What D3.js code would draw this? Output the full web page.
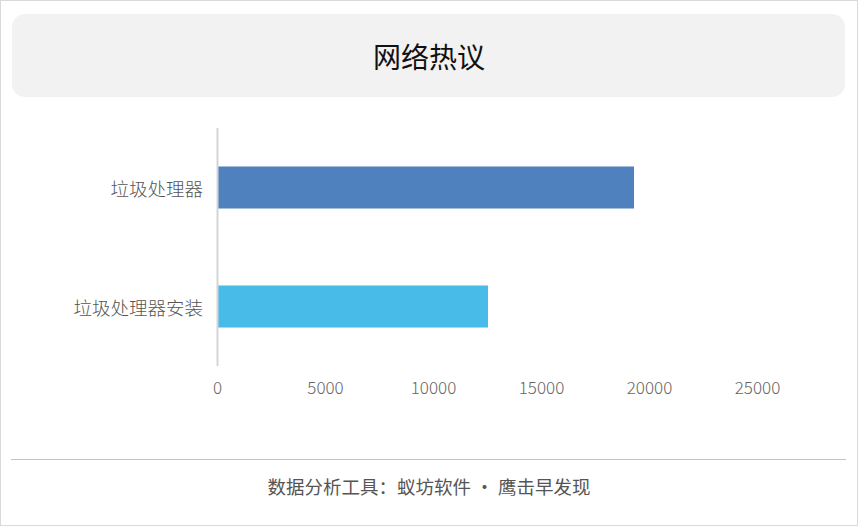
<!DOCTYPE html>
<html><head><meta charset="utf-8">
<script src="https://cdn.jsdelivr.net/npm/d3@7/dist/d3.min.js"></script>
<style>html,body{margin:0;padding:0;background:#fff;}svg{display:block;}</style>
</head><body><svg id="c" width="858" height="526"></svg>
<script>
const title = "网络热议";
const categories = ["垃圾处理器", "垃圾处理器安装"];
const values = [19260, 12500];
const colors = ["#4e81bd", "#48bbe8"];
const xTicks = [0, 5000, 10000, 15000, 20000, 25000];
const footer = "数据分析工具：蚁坊软件 · 鹰击早发现";

const svg = d3.select("#c");
const W = 858, H = 526;
const font = "'Noto Sans CJK SC', 'Noto Sans', sans-serif";

svg.append("rect").attr("x",0.5).attr("y",0.5).attr("width",W-1).attr("height",H-1)
  .attr("fill","#fff").attr("stroke","#d9d9d9");
svg.append("rect").attr("x",12).attr("y",14).attr("width",833).attr("height",83)
  .attr("rx",13).attr("fill","#f2f2f2");
svg.append("text").attr("x",429).attr("y",56).attr("text-anchor","middle")
  .attr("dominant-baseline","central").attr("font-family",font).attr("font-size",28)
  .attr("font-weight",400).attr("fill","#111").text(title);

const x = d3.scaleLinear().domain([0,25000]).range([218,758]);
const y = d3.scaleBand().domain(categories).range([128,366]).paddingInner(0.647).paddingOuter(0.3235);

svg.selectAll("rect.bar").data(categories).join("rect").attr("class","bar")
  .attr("x",x(0)).attr("y",d=>y(d)).attr("width",(d,i)=>x(values[i])-x(0))
  .attr("height",y.bandwidth()).attr("fill",(d,i)=>colors[i]);

svg.append("line").attr("x1",217.5).attr("x2",217.5).attr("y1",128).attr("y2",366)
  .attr("stroke","#d4d4d4").attr("stroke-width",2);

svg.selectAll("text.cat").data(categories).join("text").attr("class","cat")
  .attr("x",203).attr("y",d=>y(d)+y.bandwidth()/2).attr("text-anchor","end")
  .attr("dominant-baseline","central").attr("font-family",font).attr("font-size",18.5)
  .attr("font-weight",300).attr("fill","#555").text(d=>d);

svg.selectAll("text.tick").data(xTicks).join("text").attr("class","tick")
  .attr("x",d=>x(d)-0.5).attr("y",386).attr("text-anchor","middle")
  .attr("dominant-baseline","central").attr("font-family",font).attr("font-size",17)
  .attr("font-weight",300).attr("fill","#666").text(d=>d);

svg.append("line").attr("x1",11).attr("x2",846).attr("y1",459.5).attr("y2",459.5)
  .attr("stroke","#c4c4c4").attr("stroke-width",1);
svg.append("text").attr("x",429).attr("y",486).attr("text-anchor","middle")
  .attr("dominant-baseline","central").attr("font-family",font).attr("font-size",18.5)
  .attr("font-weight",400).attr("fill","#555").text(footer);
</script></body></html>
